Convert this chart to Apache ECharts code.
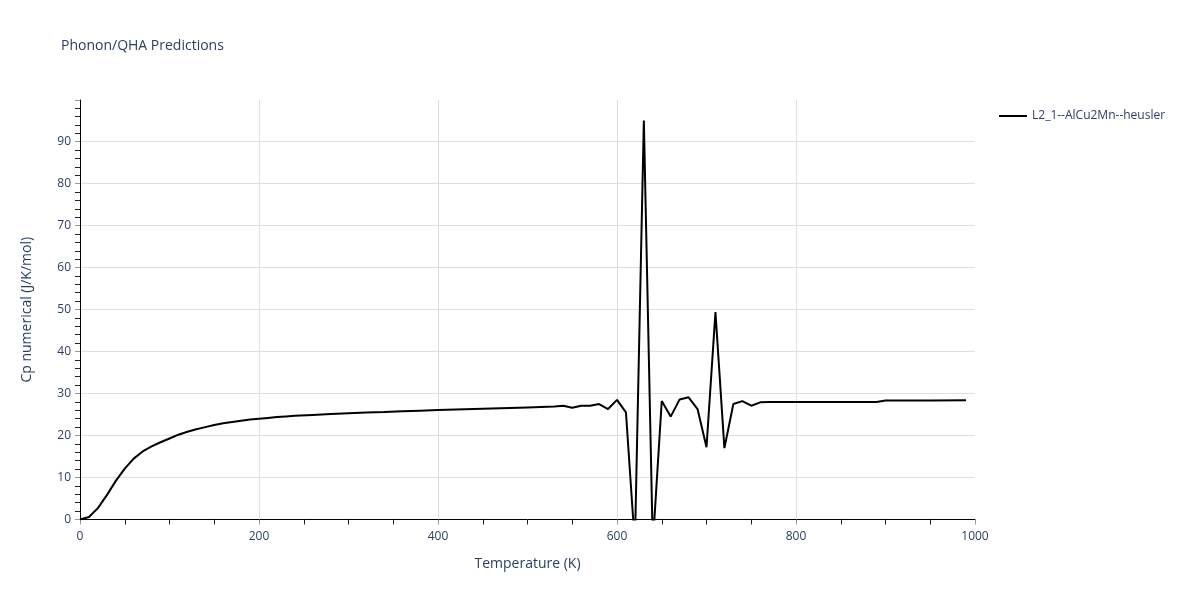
<!DOCTYPE html>
<html>
<head>
<meta charset="utf-8">
<script src="https://cdn.jsdelivr.net/npm/echarts@6/dist/echarts.min.js"></script>
<style>html,body{margin:0;padding:0;background:#fff}#c{width:1200px;height:600px}</style>
</head>
<body>
<div id="c"></div>
<script>
const seriesName = 'L2_1--AlCu2Mn--heusler';
const temperatures = [0,10,20,30,40,50,60,70,80,90,100,110,120,130,140,150,160,170,180,190,200,210,220,230,240,260,280,300,320,340,360,380,400,430,460,500,530,540,550,560,570,580,590,600,610,620,630,640,650,660,670,680,690,700,710,720,730,740,750,760,770,800,850,890,900,950,990];
const cpValues =     [0,0.6,2.7,5.8,9.2,12.1,14.5,16.2,17.4,18.4,19.3,20.2,20.9,21.5,22.0,22.5,22.9,23.2,23.5,23.8,24.0,24.2,24.4,24.55,24.7,24.9,25.1,25.3,25.5,25.6,25.75,25.9,26.05,26.25,26.45,26.7,26.9,27.1,26.6,27.1,27.1,27.5,26.3,28.5,25.5,-6,95.0,-6,28.2,24.5,28.6,29.1,26.3,17.2,49.4,17.0,27.5,28.2,27.1,27.9,28.0,28.0,28.0,28.0,28.35,28.35,28.4];
const xTicks = [0,200,400,600,800,1000];
const yTicks = [0,10,20,30,40,50,60,70,80,90];

const textColor = '#2a3f5f';
const font = 'Open Sans, Noto Sans, sans-serif';
const chart = echarts.init(document.getElementById('c'), null, {renderer: 'canvas'});
chart.setOption({
  animation: false,
  backgroundColor: '#fff',
  title: {
    text: 'Phonon/QHA Predictions',
    left: 56, top: 34,
    textStyle: {fontFamily: font, fontSize: 14, fontWeight: 'normal', color: textColor}
  },
  legend: {
    left: 994, top: 105,
    itemWidth: 28, itemHeight: 2, itemGap: 10,
    textStyle: {fontFamily: font, fontSize: 12, color: textColor},
    data: [{name: seriesName, icon: 'rect'}]
  },
  grid: {left: 80, right: 225, top: 100, bottom: 80.5},
  xAxis: {
    type: 'value', min: xTicks[0], max: xTicks[xTicks.length-1], interval: 200,
    name: 'Temperature (K)', nameLocation: 'middle', nameGap: 38,
    nameTextStyle: {fontFamily: font, fontSize: 14, color: textColor},
    axisLine: {show: true, onZero: false, lineStyle: {color: '#000', width: 1}},
    axisTick: {show: true, length: 5, lineStyle: {color: '#999'}},
    minorTick: {show: true, splitNumber: 4, length: 5, lineStyle: {color: '#222'}},
    axisLabel: {fontFamily: font, fontSize: 12, color: textColor, margin: 11,
      formatter: v => (xTicks.indexOf(v) >= 0 ? String(v) : '')},
    splitLine: {show: true, showMinLine: false, showMaxLine: false, lineStyle: {color: '#dedede', width: 1}}
  },
  yAxis: {
    type: 'value', min: yTicks[0], max: 99.9, interval: 10,
    name: 'Cp numerical (J/K/mol)', nameLocation: 'middle', nameGap: 46,
    nameTextStyle: {fontFamily: font, fontSize: 14, color: textColor},
    axisLine: {show: true, onZero: false, lineStyle: {color: '#000', width: 1}},
    axisTick: {show: true, length: 5, lineStyle: {color: '#999'}},
    minorTick: {show: true, splitNumber: 5, length: 5, lineStyle: {color: '#222'}},
    axisLabel: {fontFamily: font, fontSize: 12, color: textColor, margin: 9, showMaxLabel: false,
      formatter: v => (yTicks.indexOf(v) >= 0 ? String(v) : '')},
    splitLine: {show: true, showMinLine: false, showMaxLine: false, lineStyle: {color: '#dedede', width: 1}}
  },
  series: [{
    name: seriesName,
    type: 'line',
    showSymbol: false,
    clip: true,
    color: '#000',
    lineStyle: {color: '#000', width: 2},
    data: temperatures.map((t, i) => [t, cpValues[i]])
  }]
});
</script>
</body>
</html>
